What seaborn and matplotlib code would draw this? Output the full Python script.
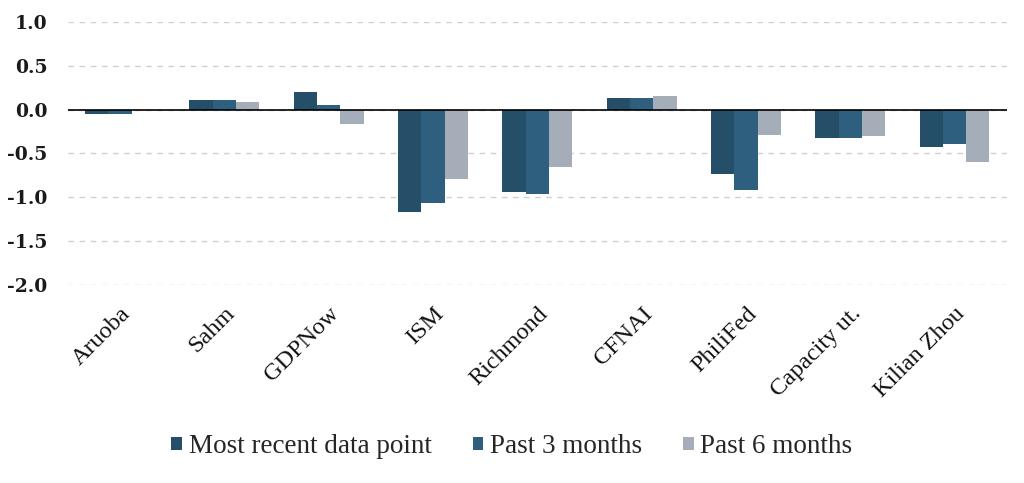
import matplotlib
matplotlib.use("Agg")
import matplotlib.pyplot as plt
import seaborn as sns
import pandas as pd

categories = ["Aruoba", "Sahm", "GDPNow", "ISM", "Richmond", "CFNAI", "PhiliFed", "Capacity ut.", "Kilian Zhou"]
series_names = ["Most recent data point", "Past 3 months", "Past 6 months"]
most_recent = [-0.05, 0.11, 0.20, -1.17, -0.94, 0.13, -0.73, -0.32, -0.43]
past_3m = [-0.05, 0.11, 0.05, -1.06, -0.96, 0.13, -0.92, -0.32, -0.39]
past_6m = [0.0, 0.09, -0.16, -0.79, -0.66, 0.16, -0.29, -0.30, -0.60]
yticks = [1.0, 0.5, 0.0, -0.5, -1.0, -1.5, -2.0]
colors = ["#254e68", "#2f5f7e", "#a4adb8"]

rows = []
for name, vals in zip(series_names, [most_recent, past_3m, past_6m]):
    for c, v in zip(categories, vals):
        rows.append({"cat": c, "series": name, "value": v})
df = pd.DataFrame(rows)

sns.set_theme(style="white")
plt.rcParams["font.family"] = ["DejaVu Serif"]

fig = plt.figure(figsize=(10.24, 4.83), dpi=100)
ax = fig.add_axes([0.0664, 0.41, 0.9166, 0.5445])

sns.barplot(data=df, x="cat", y="value", hue="series", order=categories,
            hue_order=series_names, palette=colors, width=0.67, gap=0,
            saturation=1, ax=ax, errorbar=None, legend=True, linewidth=0)

ax.set_ylim(-2.0, 1.0)
ax.set_xlim(-0.5, len(categories) - 0.5)
ax.set_yticks(yticks)
ax.set_yticklabels([f"{t:.1f}" for t in yticks], fontsize=13.5, family="DejaVu Serif",
                   fontweight="bold", color="#1a1a1a")
ax.set_xticks(range(len(categories)))
ax.set_xticklabels(categories, rotation=45, ha="right", rotation_mode="anchor",
                   fontsize=17.5, family="Liberation Serif", color="#111111")
ax.tick_params(axis="y", length=0, pad=15)
ax.tick_params(axis="x", length=0, pad=13)
ax.set_xlabel("")
ax.set_ylabel("")
for s in ax.spines.values():
    s.set_visible(False)
ax.yaxis.grid(True, color="#d0d0d0", linestyle=(0, (4, 4)), linewidth=1)
ax.set_axisbelow(True)
ax.axhline(0, color="black", linewidth=1.2, zorder=3)

handles, labels = ax.get_legend_handles_labels()
ax.legend_.remove()
fig.legend(handles, labels, loc="center", bbox_to_anchor=(0.5, 0.075), ncol=3,
           frameon=False, handlelength=0.4, handleheight=0.4, handletextpad=0.25,
           columnspacing=1.5, prop={"family": "Liberation Serif", "size": 19.5})

fig.savefig("out.png", dpi=100)
